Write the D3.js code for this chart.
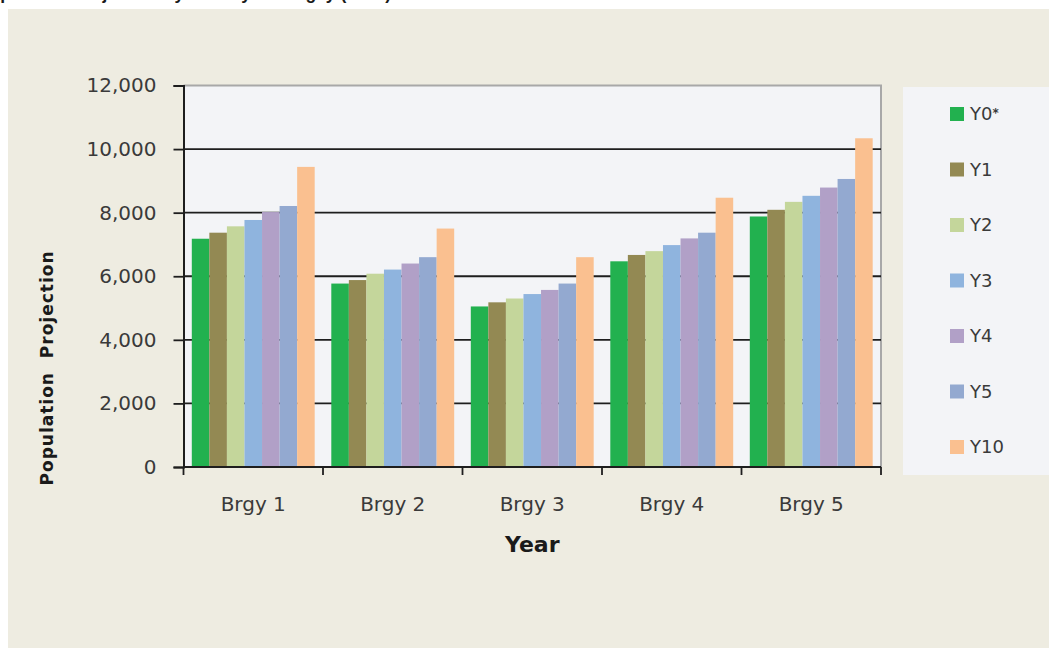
<!DOCTYPE html>
<html>
<head>
<meta charset="utf-8">
<script src="https://cdn.jsdelivr.net/npm/d3@7"></script>
<style>
  html, body { margin: 0; padding: 0; background: #ffffff; }
  svg { display: block; }
</style>
</head>
<body>
<svg id="chart" width="1049" height="648"></svg>
<script>
// Barangays along the x axis
const categories = ["Brgy 1", "Brgy 2", "Brgy 3", "Brgy 4", "Brgy 5"];

// Projection years (legend order)
const seriesKeys = ["Y0", "Y1", "Y2", "Y3", "Y4", "Y5", "Y10"];
const seriesColors = ["#22b14f", "#938953", "#c4d69b", "#8fb4de", "#b1a0c7", "#93a9d0", "#fac090"];

// Population projection per barangay, one array per year
const valuesY0  = [7180, 5770, 5050, 6470, 7880];
const valuesY1  = [7370, 5880, 5180, 6670, 8090];
const valuesY2  = [7570, 6080, 5300, 6790, 8340];
const valuesY3  = [7770, 6210, 5440, 6980, 8530];
const valuesY4  = [8020, 6400, 5570, 7190, 8790];
const valuesY5  = [8210, 6600, 5770, 7370, 9060];
const valuesY10 = [9440, 7500, 6600, 8470, 10340];

// Value axis ticks
const yTicks = [0, 2000, 4000, 6000, 8000, 10000, 12000];

const seriesValues = [valuesY0, valuesY1, valuesY2, valuesY3, valuesY4, valuesY5, valuesY10];

const svg = d3.select("#chart");
const W = 1049, H = 648;
const font = "'DejaVu Sans', sans-serif";
const textColor = "#3a3a3a";

// Page title (runs off the top edge)
svg.append("text")
  .attr("x", -22).attr("y", -1.5)
  .attr("font-family", "'Liberation Sans', Arial, sans-serif")
  .attr("font-weight", "bold")
  .attr("font-size", 17.5)
  .attr("fill", "#1a1a1a")
  .text("Population Projection by Year by Barangay (2012)");

// Chart background
svg.append("rect")
  .attr("x", 8).attr("y", 9)
  .attr("width", W - 8).attr("height", H - 9)
  .attr("fill", "#eeece1");

const plot = { left: 183.5, top: 85.5, width: 697.5, height: 381.5 };

const x0 = d3.scaleBand()
  .domain(categories)
  .range([plot.left, plot.left + plot.width]);

const groupPad = 8.3;
const x1 = d3.scaleBand()
  .domain(seriesKeys)
  .range([groupPad, x0.bandwidth() - groupPad]);

const y = d3.scaleLinear()
  .domain([0, 12000])
  .range([plot.top + plot.height, plot.top]);

// Plot area
svg.append("rect")
  .attr("x", plot.left).attr("y", plot.top)
  .attr("width", plot.width).attr("height", plot.height)
  .attr("fill", "#f3f4f7");

// Plot area border (top and right)
svg.append("path")
  .attr("d", `M${plot.left},${plot.top}H${plot.left + plot.width}V${plot.top + plot.height}`)
  .attr("fill", "none")
  .attr("stroke", "#a8a8a8")
  .attr("stroke-width", 2);

// Horizontal gridlines
svg.append("g")
  .selectAll("line")
  .data(yTicks.filter(t => t > 0 && t < 12000))
  .join("line")
  .attr("x1", plot.left).attr("x2", plot.left + plot.width)
  .attr("y1", d => y(d)).attr("y2", d => y(d))
  .attr("stroke", "#1e1e1e")
  .attr("stroke-width", 1.8);

// Bars
const rows = categories.map((c, i) => ({
  category: c,
  values: seriesKeys.map((k, j) => ({ key: k, value: seriesValues[j][i], color: seriesColors[j] }))
}));

svg.append("g")
  .selectAll("g")
  .data(rows)
  .join("g")
  .attr("transform", d => `translate(${x0(d.category)},0)`)
  .selectAll("rect")
  .data(d => d.values)
  .join("rect")
  .attr("x", d => x1(d.key))
  .attr("width", x1.bandwidth())
  .attr("y", d => y(d.value))
  .attr("height", d => y(0) - y(d.value))
  .attr("fill", d => d.color);

// Y axis
const yAxis = svg.append("g")
  .attr("transform", `translate(${plot.left},0)`)
  .call(d3.axisLeft(y).tickValues(yTicks).tickFormat(d3.format(",")).tickSize(10).tickPadding(17));
yAxis.select(".domain").attr("stroke", "#1e1e1e").attr("stroke-width", 2);
yAxis.selectAll(".tick line").attr("stroke", "#1e1e1e").attr("stroke-width", 1.8);
yAxis.selectAll(".tick text")
  .attr("font-family", font).attr("font-size", 20).attr("fill", textColor);

// X axis with ticks between groups
const xAxisY = plot.top + plot.height;
svg.append("line")
  .attr("x1", plot.left).attr("x2", plot.left + plot.width)
  .attr("y1", xAxisY).attr("y2", xAxisY)
  .attr("stroke", "#1e1e1e").attr("stroke-width", 2);

const boundaries = categories.map(c => x0(c)).concat([x0(categories[categories.length - 1]) + x0.bandwidth()]);
svg.append("g")
  .selectAll("line")
  .data(boundaries)
  .join("line")
  .attr("x1", d => d).attr("x2", d => d)
  .attr("y1", xAxisY).attr("y2", xAxisY + 8)
  .attr("stroke", "#1e1e1e").attr("stroke-width", 1.8);

svg.append("g")
  .selectAll("text")
  .data(categories)
  .join("text")
  .attr("x", d => x0(d) + x0.bandwidth() / 2)
  .attr("y", 511)
  .attr("text-anchor", "middle")
  .attr("font-family", font).attr("font-size", 20).attr("fill", textColor)
  .text(d => d);

// Axis titles
svg.append("text")
  .attr("x", plot.left + plot.width / 2)
  .attr("y", 552)
  .attr("text-anchor", "middle")
  .attr("font-family", font).attr("font-weight", "bold").attr("font-size", 22)
  .attr("fill", "#1a1a1a")
  .text("Year");

svg.append("text")
  .attr("transform", "translate(53,368) rotate(-90)")
  .attr("text-anchor", "middle")
  .attr("font-family", font).attr("font-weight", "bold").attr("font-size", 17)
  .attr("letter-spacing", 1)
  .attr("fill", "#1a1a1a")
  .style("white-space", "pre")
  .text("Population  Projection");

// Legend
svg.append("rect")
  .attr("x", 903).attr("y", 87)
  .attr("width", W - 903 + 5).attr("height", 388)
  .attr("fill", "#f3f4f7");

const legendY = d3.scalePoint()
  .domain(seriesKeys)
  .range([114, 447]);

const legendItems = svg.append("g")
  .selectAll("g")
  .data(seriesKeys.map((k, j) => ({ key: k, color: seriesColors[j] })))
  .join("g")
  .attr("transform", d => `translate(950,${legendY(d.key)})`);

legendItems.append("rect")
  .attr("x", 0).attr("y", -7)
  .attr("width", 14).attr("height", 14)
  .attr("fill", d => d.color);

const legendText = legendItems.append("text")
  .attr("x", 20).attr("y", 0).attr("dy", "0.36em")
  .attr("font-family", font).attr("font-size", 18).attr("fill", textColor)
  .text(d => d.key);

// Base year carries a footnote marker
legendText.filter(d => d.key === "Y0")
  .append("tspan")
  .attr("dy", "-0.3em")
  .attr("font-size", 12)
  .attr("font-weight", "bold")
  .text("*");
</script>
</body>
</html>
